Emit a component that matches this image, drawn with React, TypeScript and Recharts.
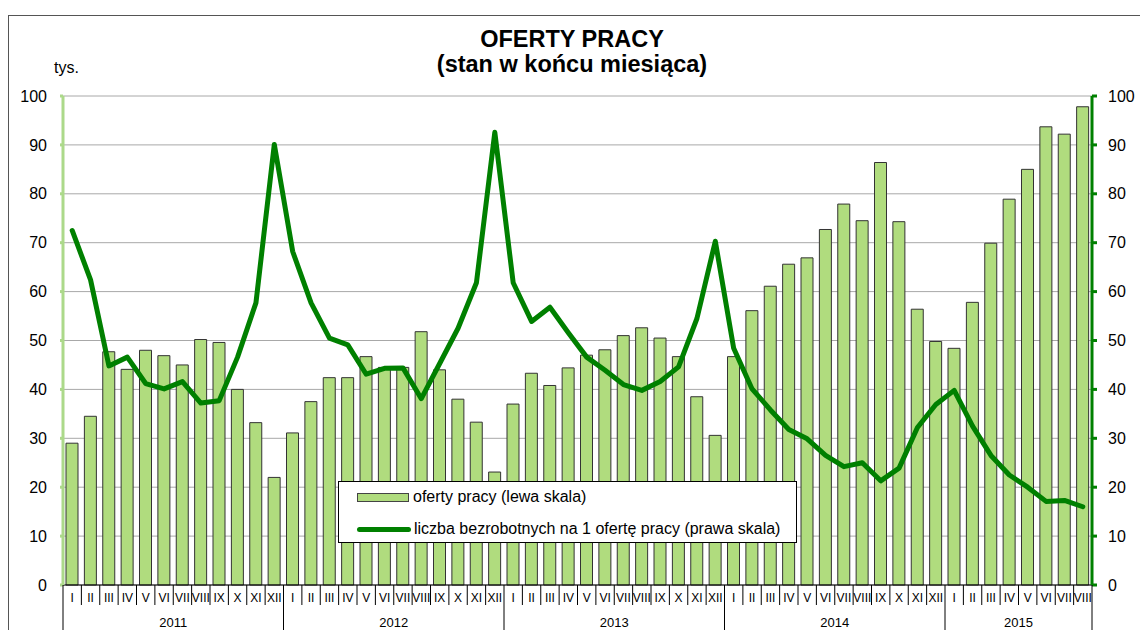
import React from "react";
import { ComposedChart, Bar, Line, XAxis, YAxis, CartesianGrid, Legend } from "recharts";

const years = [2011, 2012, 2013, 2014, 2015];
const monthsInYear = [12, 12, 12, 12, 8];
const monthNames = ["I", "II", "III", "IV", "V", "VI", "VII", "VIII", "IX", "X", "XI", "XII"];
const yTicks = [0, 10, 20, 30, 40, 50, 60, 70, 80, 90, 100];

// oferty pracy, tys. (lewa skala)
const oferty = [
  29.0, 34.5, 47.7, 44.1, 48.0, 46.9, 45.0, 50.2, 49.6, 40.0, 33.2, 22.0,
  31.1, 37.5, 42.4, 42.4, 46.7, 44.5, 44.5, 51.8, 44.0, 38.0, 33.3, 23.1,
  37.0, 43.3, 40.8, 44.4, 47.0, 48.1, 51.0, 52.6, 50.5, 46.7, 38.5, 30.6,
  46.7, 56.1, 61.1, 65.6, 66.9, 72.7, 77.9, 74.5, 86.4, 74.3, 56.4, 49.8,
  48.4, 57.8, 69.9, 78.9, 85.0, 93.7, 92.2, 97.8,
];

// liczba bezrobotnych na 1 ofertę pracy (prawa skala)
const bezrobotni = [
  72.5, 62.4, 44.8, 46.6, 41.2, 40.1, 41.6, 37.2, 37.7, 46.6, 57.7, 90.1,
  68.2, 57.7, 50.5, 49.1, 43.1, 44.3, 44.4, 38.1, 45.3, 52.5, 61.8, 92.6,
  61.8, 53.9, 56.8, 51.6, 46.6, 43.9, 41.0, 39.8, 41.6, 44.6, 54.5, 70.3,
  48.4, 40.1, 35.8, 31.8, 29.9, 26.5, 24.2, 25.0, 21.3, 23.9, 32.2, 36.9,
  39.8, 32.5, 26.5, 22.5, 20.0, 17.1, 17.3, 16.0,
];

const W = 1140;
const H = 630;
const TOP = 96;
const LEFT_W = 63;
const RIGHT_W = 48;
const MONTH_H = 20;
const YEAR_H = 25;
const PLOT_BOTTOM = H - MONTH_H - YEAR_H;
const FONT = "'Liberation Sans', Arial, sans-serif";

type Cat = { key: string; month: string; yearIdx: number; m: number; first: boolean; last: boolean };
const cats: Cat[] = [];
years.forEach((yr, yi) => {
  for (let m = 0; m < monthsInYear[yi]; m++) {
    cats.push({ key: `${yr}-${monthNames[m]}`, month: monthNames[m], yearIdx: yi, m, first: m === 0, last: false });
  }
});
cats[cats.length - 1].last = true;

const data = cats.map((c, i) => ({ key: c.key, oferty: oferty[i], bezrobotni: bezrobotni[i] }));

const MonthTick = (props: any) => {
  const { x, payload } = props;
  const c = cats.find((k) => k.key === payload.value);
  if (!c) return null;
  const bw = (W - LEFT_W - RIGHT_W) / cats.length;
  const left = x - bw / 2;
  const right = x + bw / 2;
  const count = monthsInYear[c.yearIdx];
  const mid = Math.floor(count / 2);
  const showYear = c.m === mid;
  const yearX = count % 2 === 0 ? left : x;
  return (
    <g>
      <line x1={left} x2={left} y1={PLOT_BOTTOM} y2={c.first ? H : PLOT_BOTTOM + 20} stroke="#000" strokeWidth={1} />
      {c.last && <line x1={right} x2={right} y1={PLOT_BOTTOM} y2={H} stroke="#000" strokeWidth={1} />}
      <text x={x} y={PLOT_BOTTOM + 17} textAnchor="middle" fontSize={12} fontFamily={FONT} fill="#000">
        {c.month}
      </text>
      {showYear && (
        <text x={yearX} y={H - 3} textAnchor="middle" fontSize={13} fontFamily={FONT} fill="#000">
          {years[c.yearIdx]}
        </text>
      )}
    </g>
  );
};

const LegendBox = (props: any) => {
  // bars first, then the line, as in the original legend
  const payload = [...(props.payload || [])].sort((a: any, b: any) => (a.type === "line" ? 1 : 0) - (b.type === "line" ? 1 : 0));
  return (
    <div
      style={{
        width: 459,
        height: 62,
        boxSizing: "border-box",
        border: "1px solid #000",
        background: "#fff",
        fontFamily: FONT,
        fontSize: 16,
        color: "#000",
        position: "relative",
      }}
    >
      {payload.map((p: any, i: number) => (
        <div key={i} style={{ position: "absolute", left: 18, top: i === 0 ? 4 : 36, height: 22, display: "flex", alignItems: "center" }}>
          {p.type === "line" ? (
            <div style={{ width: 54, height: 5, borderRadius: 3, background: p.color }} />
          ) : (
            <div style={{ width: 50, height: 7, background: p.color, border: "1px solid #444" }} />
          )}
          <span style={{ marginLeft: p.type === "line" ? 3 : 4, whiteSpace: "nowrap" }}>{p.value}</span>
        </div>
      ))}
    </div>
  );
};

export default function App() {
  return (
    <div style={{ position: "absolute", left: 0, top: 0, width: W, height: H, background: "#fff", overflow: "hidden" }}>
      <ComposedChart
        width={W}
        height={H}
        data={data}
        margin={{ top: TOP, right: 0, bottom: 0, left: 0 }}
        barCategoryGap="19%"
      >
        <CartesianGrid yAxisId="left" vertical={false} stroke="#a8a8a8" />
        <XAxis
          dataKey="key"
          height={MONTH_H + YEAR_H}
          interval={0}
          tickLine={false}
          axisLine={{ stroke: "#000", strokeWidth: 1 }}
          tick={MonthTick}
        />
        <YAxis
          yAxisId="left"
          width={LEFT_W}
          domain={[0, 100]}
          ticks={yTicks}
          interval={0}
          tickSize={3}
          tickMargin={13}
          axisLine={{ stroke: "#acd98a", strokeWidth: 3 }}
          tickLine={{ stroke: "#acd98a", strokeWidth: 3 }}
          tick={{ fill: "#000", fontSize: 16, fontFamily: FONT }}
        />
        <YAxis
          yAxisId="right"
          orientation="right"
          width={RIGHT_W}
          domain={[0, 100]}
          ticks={yTicks}
          interval={0}
          tickSize={5}
          tickMargin={11}
          axisLine={{ stroke: "#008000", strokeWidth: 3 }}
          tickLine={{ stroke: "#008000", strokeWidth: 3 }}
          tick={{ fill: "#000", fontSize: 16, fontFamily: FONT, textAnchor: "start" }}
        />
        <Bar
          yAxisId="left"
          dataKey="oferty"
          name="oferty pracy (lewa skala)"
          fill="#b0dc7e"
          stroke="#333"
          strokeWidth={1}
          barSize={12}
          isAnimationActive={false}
        />
        <Line
          yAxisId="right"
          dataKey="bezrobotni"
          name="liczba bezrobotnych na 1 ofertę pracy (prawa skala)"
          type="linear"
          stroke="#008000"
          strokeWidth={5}
          strokeLinejoin="round"
          strokeLinecap="round"
          dot={false}
          activeDot={false}
          legendType="line"
          isAnimationActive={false}
        />
        <Legend
          layout="horizontal"
          verticalAlign="middle"
          align="center"
          content={<LegendBox />}
          wrapperStyle={{ left: 338, top: 481, width: 459, height: 62 }}
        />
      </ComposedChart>
      <svg width={W} height={H} style={{ position: "absolute", left: 0, top: 0, pointerEvents: "none" }}>
        <line x1={8.5} x2={8.5} y1={15} y2={H} stroke="#555" strokeWidth={1} />
        <line x1={8} x2={W} y1={15.5} y2={15.5} stroke="#555" strokeWidth={1} />
        <text x={572} y={47} textAnchor="middle" fontSize={23.5} fontWeight="bold" fontFamily={FONT}>
          OFERTY PRACY
        </text>
        <text x={572} y={72} textAnchor="middle" fontSize={23.5} fontWeight="bold" fontFamily={FONT}>
          (stan w końcu miesiąca)
        </text>
        <text x={54} y={73} fontSize={16} fontFamily={FONT}>
          tys.
        </text>
      </svg>
    </div>
  );
}
